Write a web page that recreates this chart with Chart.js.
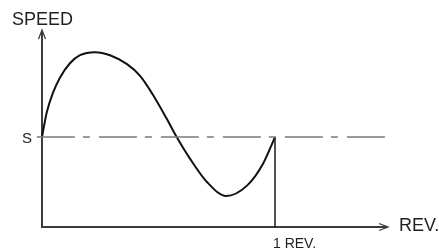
<!DOCTYPE html>
<html>
<head>
<meta charset="utf-8">
<script src="https://cdn.jsdelivr.net/npm/chart.js@4"></script>
<style>
  html, body { margin: 0; padding: 0; background: #fff; }
  #wrap { width: 439px; height: 250px; }
</style>
</head>
<body>
<div id="wrap"><canvas id="c" width="439" height="250"></canvas></div>
<script>
// ── Dados (x em rotações, velocidade relativa a S) ──
const revs  = [0, 0.02, 0.047, 0.077, 0.12, 0.163, 0.227, 0.292, 0.365, 0.421, 0.476, 0.536, 0.578, 0.635, 0.708, 0.79, 0.88, 0.948, 1];
const speed = [1, 1.27, 1.49, 1.66, 1.82, 1.91, 1.944, 1.91, 1.81, 1.68, 1.47, 1.2, 1, 0.76, 0.5, 0.345, 0.46, 0.7, 1];
const sLevel = 1;       // linha "S"
const oneRev = 1;       // marca "1 REV."
const xMax = 1.485;     // ponta da seta do eixo X
const yMax = 2.19;      // ponta da seta do eixo Y
const axisTitles = { x: 'REV.', y: 'SPEED' };
const tickLabels = { s: 'S', rev: '1 REV.' };

const curve = revs.map((r, i) => ({ x: r, y: speed[i] }));

// ── Eixos com setas e rótulos ──
const axesPlugin = {
  id: 'axesPlugin',
  beforeDatasetsDraw(chart) {
    const { ctx, scales: { x, y } } = chart;
    const x0 = x.getPixelForValue(0), y0 = y.getPixelForValue(0);
    const xEnd = x.getPixelForValue(xMax), yEnd = y.getPixelForValue(yMax);
    ctx.save();
    ctx.strokeStyle = '#3c3c3c';
    ctx.lineWidth = 2;
    ctx.beginPath();
    ctx.moveTo(x0, y0 + 1); ctx.lineTo(x0, yEnd + 1);
    ctx.moveTo(x0 - 1, y0); ctx.lineTo(xEnd - 1, y0);
    ctx.stroke();
    // setas
    ctx.lineWidth = 1.3;
    ctx.beginPath();
    ctx.moveTo(x0 - 3.5, yEnd + 9); ctx.lineTo(x0, yEnd); ctx.lineTo(x0 + 3.5, yEnd + 9);
    ctx.moveTo(xEnd - 9, y0 - 3.5); ctx.lineTo(xEnd, y0); ctx.lineTo(xEnd - 9, y0 + 3.5);
    ctx.stroke();

    ctx.fillStyle = '#1e1e1e';
    ctx.font = '18px "Liberation Sans", Arial, sans-serif';
    ctx.textBaseline = 'alphabetic';
    ctx.textAlign = 'left';
    ctx.fillText(axisTitles.y, 12, 25);
    ctx.fillText(axisTitles.x, xEnd + 11, y0 + 4);
    ctx.font = '15px "Liberation Sans", Arial, sans-serif';
    ctx.textAlign = 'right';
    ctx.fillText(tickLabels.s, x0 - 10, y.getPixelForValue(sLevel) + 6);
    ctx.font = '14px "Liberation Sans", Arial, sans-serif';
    ctx.textAlign = 'left';
    ctx.fillText(tickLabels.rev, x.getPixelForValue(oneRev) - 2, y0 + 21);
    ctx.restore();
  }
};

new Chart(document.getElementById('c'), {
  type: 'line',
  data: {
    datasets: [
      {
        data: [{ x: -0.022, y: sLevel }, { x: 1.477, y: sLevel }],
        borderColor: '#7a7a7a', borderWidth: 1.6,
        borderDash: [38, 8, 7, 9],
        pointRadius: 0, tension: 0,
      },
      {
        data: [{ x: oneRev, y: sLevel }, { x: oneRev, y: 0 }],
        borderColor: '#1a1a1a', borderWidth: 1.5,
        pointRadius: 0, tension: 0,
      },
      {
        data: curve,
        borderColor: '#111', borderWidth: 2,
        pointRadius: 0, cubicInterpolationMode: 'monotone',
      },
    ],
  },
  options: {
    responsive: false,
    animation: false,
    clip: false,
    layout: { padding: { left: 42, right: 51, top: 30, bottom: 23 } },
    plugins: { legend: { display: false }, tooltip: { enabled: false } },
    scales: {
      x: { type: 'linear', min: 0, max: xMax, display: false },
      y: { type: 'linear', min: 0, max: yMax, display: false },
    },
  },
  plugins: [axesPlugin],
});
</script>
</body>
</html>
